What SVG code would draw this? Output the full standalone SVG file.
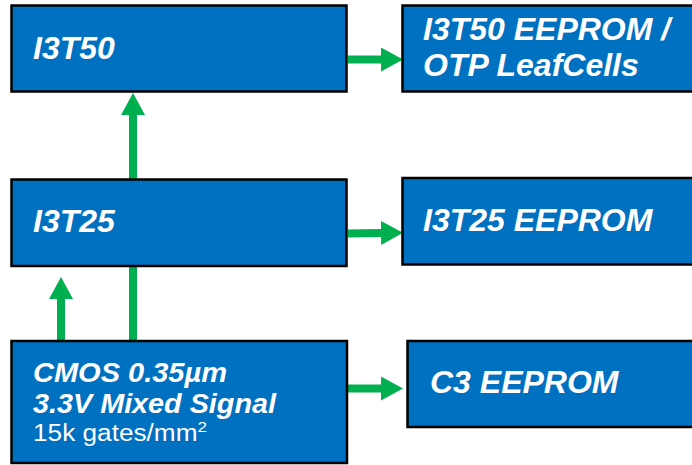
<svg xmlns="http://www.w3.org/2000/svg" width="692" height="465" viewBox="0 0 692 465">
  <style>
    .box { fill: #0070C0; stroke: #000000; stroke-width: 2.5; }
    .t { font-family: "Liberation Sans", Arial, sans-serif; font-weight: bold; font-style: italic; fill: #FFFFFF; }
    .big { font-size: 32px; }
    .mid { font-size: 28px; }
    .reg { font-family: "Liberation Sans", Arial, sans-serif; font-size: 23px; fill: #FFFFFF; }
    .conn { stroke: #00B050; stroke-width: 8; fill: none; marker-end: url(#head); }
  </style>
  <defs>
    <marker id="head" viewBox="0 0 22 24" refX="0" refY="12" markerWidth="22" markerHeight="24" markerUnits="userSpaceOnUse" orient="auto">
      <path d="M0,0 L22,12 L0,24 Z" fill="#00B050"/>
    </marker>
  </defs>
  <rect width="692" height="465" fill="#FFFFFF"/>

  <g id="connectors">
    <line class="conn" x1="133" y1="341" x2="133" y2="115"/>
    <line class="conn" x1="61" y1="341" x2="61" y2="299"/>
    <line class="conn" x1="348" y1="59.5" x2="381" y2="59.5"/>
    <line class="conn" x1="348" y1="233.5" x2="381" y2="233"/>
    <line class="conn" x1="348" y1="388.5" x2="381" y2="388.5"/>
  </g>

  <g id="node-i3t50">
    <rect class="box" x="11.5" y="5.5" width="335" height="86"/>
    <text class="t big" x="33" y="59">I3T50</text>
  </g>
  <g id="node-i3t50-eeprom">
    <rect class="box" x="402.5" y="5.5" width="300" height="86"/>
    <text class="t big"><tspan x="423" y="40">I3T50 EEPROM /</tspan><tspan x="423" y="76">OTP LeafCells</tspan></text>
  </g>
  <g id="node-i3t25">
    <rect class="box" x="11.5" y="179.5" width="335" height="86.5"/>
    <text class="t big" x="33" y="232">I3T25</text>
  </g>
  <g id="node-i3t25-eeprom">
    <rect class="box" x="402.5" y="178" width="300" height="86.5"/>
    <text class="t big" x="423" y="231">I3T25 EEPROM</text>
  </g>
  <g id="node-cmos">
    <rect class="box" x="11.5" y="341" width="335.5" height="122"/>
    <text class="t mid" x="33" y="382" textLength="194" lengthAdjust="spacingAndGlyphs">CMOS 0.35µm</text>
    <text class="t mid" x="33" y="413" textLength="243" lengthAdjust="spacingAndGlyphs">3.3V Mixed Signal</text>
    <text class="reg" x="33" y="441" textLength="174" lengthAdjust="spacingAndGlyphs">15k gates/mm<tspan font-size="15" dy="-9">2</tspan></text>
  </g>
  <g id="node-c3-eeprom">
    <rect class="box" x="407.5" y="341" width="300" height="86"/>
    <text class="t big" x="430" y="393">C3 EEPROM</text>
  </g>
</svg>
